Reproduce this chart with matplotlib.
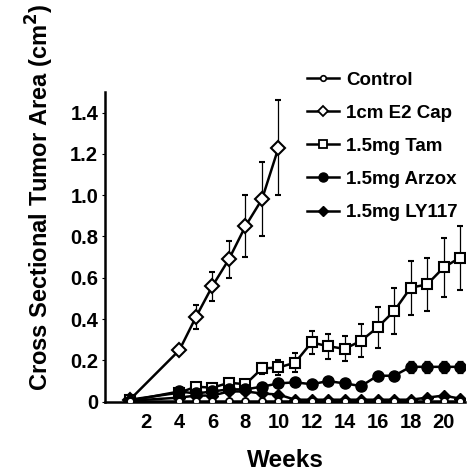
import numpy as np
import matplotlib
matplotlib.use('Agg')
import matplotlib.pyplot as plt
from matplotlib.lines import Line2D

plt.rcParams['font.family'] = 'Liberation Sans'
plt.rcParams['font.weight'] = 'bold'

weeks = [1, 4, 5, 6, 7, 8, 9, 10, 11, 12, 13, 14, 15, 16, 17, 18, 19, 20, 21]
e2_weeks = [1, 4, 5, 6, 7, 8, 9, 10]

control = [0.005, 0.005, 0.005, 0.005, 0.005, 0.005, 0.005, 0.005, 0.005, 0.005,
           0.005, 0.005, 0.005, 0.005, 0.005, 0.005, 0.005, 0.005, 0.005]
e2_cap = [0.01, 0.25, 0.41, 0.56, 0.69, 0.85, 0.98, 1.23]
e2_err = [0.0, 0.01, 0.06, 0.07, 0.09, 0.15, 0.18, 0.23]
tam = [0.01, 0.044, 0.073, 0.068, 0.092, 0.085, 0.161, 0.166, 0.189, 0.287,
       0.269, 0.256, 0.295, 0.36, 0.439, 0.552, 0.568, 0.65, 0.698]
tam_err = [0.0, 0.005, 0.008, 0.008, 0.01, 0.015, 0.025, 0.035, 0.045, 0.055,
           0.06, 0.06, 0.08, 0.1, 0.11, 0.13, 0.13, 0.145, 0.155]
arzox = [0.005, 0.05, 0.04, 0.05, 0.06, 0.06, 0.073, 0.089, 0.094, 0.085,
         0.1, 0.089, 0.076, 0.126, 0.126, 0.169, 0.169, 0.169, 0.169]
arzox_err = [0.0, 0.005, 0.005, 0.005, 0.005, 0.005, 0.005, 0.005, 0.005, 0.005,
             0.005, 0.005, 0.005, 0.015, 0.015, 0.03, 0.03, 0.03, 0.03]
ly117 = [0.005, 0.02, 0.03, 0.03, 0.05, 0.05, 0.04, 0.035, 0.01, 0.01,
         0.01, 0.01, 0.01, 0.01, 0.01, 0.01, 0.02, 0.03, 0.015]

labels = ['Control', '1cm E2 Cap', '1.5mg Tam', '1.5mg Arzox', '1.5mg LY117']

fig = plt.figure(figsize=(4.67, 4.71), dpi=100)
ax = fig.add_axes([0.225, 0.147, 0.771, 0.658])

ebkw = dict(ecolor='black', elinewidth=0.9, capsize=2.5, capthick=0.9)
ax.plot(weeks, control, '-o', color='black', lw=1.8, ms=5,
        mfc='white', mec='black', mew=1.3, zorder=6)
ax.errorbar(e2_weeks, e2_cap, yerr=e2_err, fmt='-D', color='black', lw=1.8, ms=7,
            mfc='white', mec='black', mew=1.5, **ebkw)
ax.errorbar(weeks, tam, yerr=tam_err, fmt='-s', color='black', lw=1.8, ms=7,
            mfc='white', mec='black', mew=1.5, **ebkw)
ax.errorbar(weeks, arzox, yerr=arzox_err, fmt='-o', color='black', lw=1.8, ms=8,
            mfc='black', mec='black', **ebkw)
ax.plot(weeks, ly117, '-D', color='black', lw=1.8, ms=6.5,
        mfc='black', mec='black', zorder=5)

ax.set_xlim(-0.5, 21.3)
ax.set_ylim(0, 1.5)
ax.set_xticks([2, 4, 6, 8, 10, 12, 14, 16, 18, 20])
ax.set_yticks([0, 0.2, 0.4, 0.6, 0.8, 1.0, 1.2, 1.4])
ax.set_yticklabels(['0', '0.2', '0.4', '0.6', '0.8', '1.0', '1.2', '1.4'])
ax.tick_params(axis='x', length=0, pad=8, labelsize=14.5)
ax.tick_params(axis='y', length=2, width=0.8, pad=3, labelsize=14.5)
for s in ['top', 'right']:
    ax.spines[s].set_visible(False)
ax.spines['left'].set_linewidth(1.8)
ax.spines['bottom'].set_linewidth(1.8)

ax.set_xlabel('Weeks', fontsize=17.5, fontweight='bold', labelpad=12)
ax.set_ylabel('Cross Sectional Tumor Area (cm$^\\mathbf{2}$)', fontsize=17,
              fontweight='bold')
ax.yaxis.set_label_coords(-0.137, 0.66)

handles = [
    Line2D([], [], color='black', lw=1.8, marker='o', ms=4, mfc='white', mec='black', mew=1.2),
    Line2D([], [], color='black', lw=1.8, marker='D', ms=5.5, mfc='white', mec='black', mew=1.3),
    Line2D([], [], color='black', lw=1.8, marker='s', ms=5.5, mfc='white', mec='black', mew=1.3),
    Line2D([], [], color='black', lw=1.8, marker='o', ms=6.5, mfc='black', mec='black'),
    Line2D([], [], color='black', lw=1.8, marker='D', ms=5.5, mfc='black', mec='black'),
]
leg = ax.legend(handles, labels, loc='upper left', bbox_to_anchor=(0.56, 1.065),
                frameon=False, fontsize=13.5, handlelength=1.7, handletextpad=0.4,
                labelspacing=0.85, borderaxespad=0, borderpad=0)
for t in leg.get_texts():
    t.set_fontweight('bold')

fig.savefig('out.png', dpi=100)
